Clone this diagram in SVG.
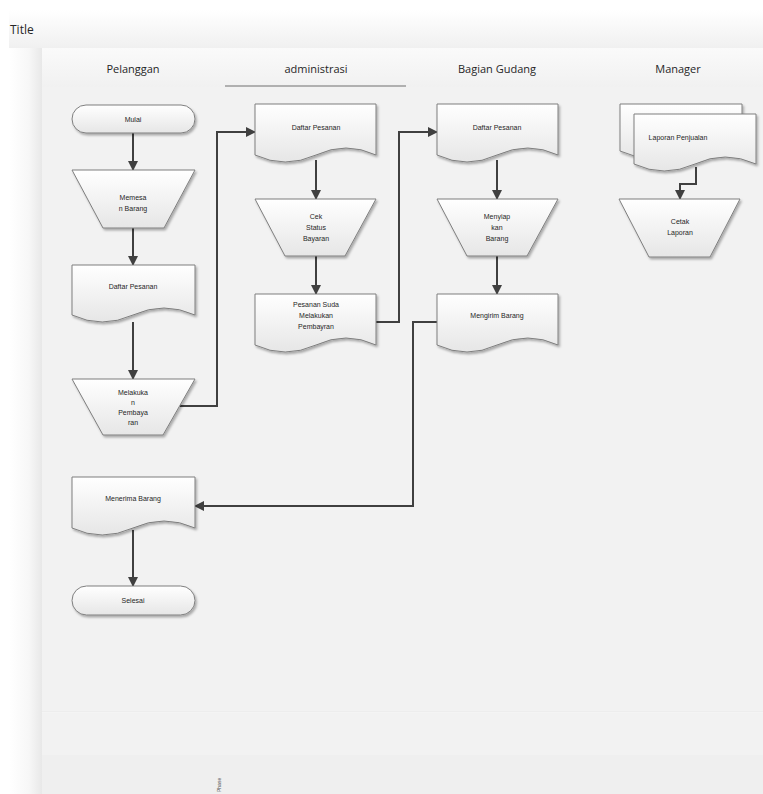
<svg xmlns="http://www.w3.org/2000/svg" width="763" height="794" viewBox="0 0 763 794">
<style>
.shape{fill:url(#shg);stroke:#7f7f7f;stroke-width:1;filter:url(#ds)}
.lbl{font-family:"Liberation Sans",Arial,sans-serif;font-size:7px;fill:#262626;text-anchor:middle}
.hdr{font-family:"Open Sans","Liberation Sans",sans-serif;font-size:11px;fill:#262626;text-anchor:middle}
.conn{fill:none;stroke:#404040;stroke-width:2}
</style>
<defs>
<linearGradient id="shg" x1="0" y1="0" x2="0" y2="1">
<stop offset="0" stop-color="#ffffff"/><stop offset="1" stop-color="#e6e6e6"/>
</linearGradient>
<linearGradient id="tg" x1="0" y1="0" x2="0" y2="1">
<stop offset="0" stop-color="#ffffff"/><stop offset="1" stop-color="#f0f0f0"/>
</linearGradient>
<linearGradient id="hg" x1="0" y1="0" x2="0" y2="1">
<stop offset="0" stop-color="#fafafa"/><stop offset="1" stop-color="#f1f1f1"/>
</linearGradient>
<linearGradient id="lsg" x1="0" y1="0" x2="1" y2="0">
<stop offset="0" stop-color="#ffffff"/><stop offset="0.6" stop-color="#f7f7f7"/><stop offset="1" stop-color="#e8e8e8"/>
</linearGradient>
<filter id="ds" x="-10%" y="-10%" width="130%" height="140%">
<feDropShadow dx="1.5" dy="2" stdDeviation="1.2" flood-color="#000" flood-opacity="0.3"/>
</filter>
<marker id="ah" viewBox="0 0 10 10" refX="9" refY="5" markerWidth="5" markerHeight="5" orient="auto" markerUnits="strokeWidth">
<path d="M0,0 L10,5 L0,10 Z" fill="#404040"/>
</marker>
</defs>

<!-- background -->
<rect x="0" y="0" width="763" height="794" fill="#ffffff"/>
<rect x="9" y="10" width="754" height="38" fill="url(#tg)"/>
<rect x="9" y="48" width="33" height="746" fill="url(#lsg)"/>
<rect x="42" y="48" width="721" height="39" fill="url(#hg)"/>
<rect x="42" y="87" width="721" height="625" fill="#f2f2f2"/>
<line x1="42" y1="712" x2="763" y2="712" stroke="#e9e9e9" stroke-width="1"/>
<rect x="42" y="713" width="721" height="42" fill="#f2f2f2"/>
<rect x="42" y="755" width="721" height="39" fill="#efefef"/>
<line x1="225" y1="86" x2="406" y2="86" stroke="#9a9a9a" stroke-width="1.5"/>
<text x="10" y="34" font-family="Open Sans,Liberation Sans,sans-serif" font-size="12" fill="#262626">Title</text>
<text class="hdr" x="133" y="73">Pelanggan</text>
<text class="hdr" x="316" y="73">administrasi</text>
<text class="hdr" x="497" y="73">Bagian Gudang</text>
<text class="hdr" x="678" y="73">Manager</text>
<text x="0" y="0" transform="translate(221,792) rotate(-90)" font-family="Liberation Sans,sans-serif" font-size="5" fill="#555">Phase</text>

<!-- connectors -->
<g id="connectors">
<line class="conn" x1="133" y1="133" x2="133" y2="170" marker-end="url(#ah)"/>
<line class="conn" x1="133" y1="228" x2="133" y2="265" marker-end="url(#ah)"/>
<line class="conn" x1="133" y1="322" x2="133" y2="379" marker-end="url(#ah)"/>
<polyline class="conn" points="180,406 217,406 217,132 255,132" marker-end="url(#ah)"/>
<line class="conn" x1="316" y1="160" x2="316" y2="199" marker-end="url(#ah)"/>
<line class="conn" x1="316" y1="256" x2="316" y2="294" marker-end="url(#ah)"/>
<polyline class="conn" points="376,322 399,322 399,132 437,132" marker-end="url(#ah)"/>
<line class="conn" x1="497" y1="160" x2="497" y2="199" marker-end="url(#ah)"/>
<line class="conn" x1="497" y1="256" x2="497" y2="294" marker-end="url(#ah)"/>
<polyline class="conn" points="437,322 413,322 413,506 195,506" marker-end="url(#ah)"/>
<line class="conn" x1="133" y1="530" x2="133" y2="586" marker-end="url(#ah)"/>
<polyline class="conn" points="696,167 696,184 680,184 680,199" marker-end="url(#ah)"/>
</g>

<!-- Pelanggan -->
<g id="mulai">
<rect class="shape" x="72" y="105" width="123" height="28" rx="14"/>
<text class="lbl" x="133" y="122">Mulai</text>
</g>
<g id="memesan">
<path class="shape" d="M72,170 H195 L164,228 H103 Z"/>
<text class="lbl" x="133" y="200">Memesa</text>
<text class="lbl" x="133" y="211">n Barang</text>
</g>
<g id="daftar1">
<path class="shape" d="M72,265 H195 V315 Q164,301 133,315 Q102,329 72,315 Z"/>
<text class="lbl" x="133" y="289">Daftar Pesanan</text>
</g>
<g id="melakukan">
<path class="shape" d="M72,379 H195 L163,435 H103 Z"/>
<text class="lbl" x="133" y="395">Melakuka</text>
<text class="lbl" x="133" y="405">n</text>
<text class="lbl" x="133" y="415">Pembaya</text>
<text class="lbl" x="133" y="425">ran</text>
</g>
<g id="menerima">
<path class="shape" d="M72,477 H195 V528 Q164,514 133,528 Q102,542 72,528 Z"/>
<text class="lbl" x="133" y="501">Menerima Barang</text>
</g>
<g id="selesai">
<rect class="shape" x="72" y="586" width="123" height="29" rx="14.5"/>
<text class="lbl" x="133" y="603">Selesai</text>
</g>

<!-- administrasi -->
<g id="daftar2">
<path class="shape" d="M255,104 H376 V155 Q346,141 316,155 Q285,169 255,155 Z"/>
<text class="lbl" x="316" y="130">Daftar Pesanan</text>
</g>
<g id="cek">
<path class="shape" d="M255,199 H376 L345,256 H285 Z"/>
<text class="lbl" x="316" y="219">Cek</text>
<text class="lbl" x="316" y="230">Status</text>
<text class="lbl" x="316" y="241">Bayaran</text>
</g>
<g id="pesanan">
<path class="shape" d="M255,294 H376 V345 Q346,331 316,345 Q285,359 255,345 Z"/>
<text class="lbl" x="316" y="307">Pesanan Suda</text>
<text class="lbl" x="316" y="318">Melakukan</text>
<text class="lbl" x="316" y="329">Pembayran</text>
</g>

<!-- Bagian Gudang -->
<g id="daftar3">
<path class="shape" d="M437,104 H558 V155 Q528,141 497,155 Q467,169 437,155 Z"/>
<text class="lbl" x="497" y="130">Daftar Pesanan</text>
</g>
<g id="menyiapkan">
<path class="shape" d="M437,199 H558 L527,256 H467 Z"/>
<text class="lbl" x="497" y="219">Menyiap</text>
<text class="lbl" x="497" y="230">kan</text>
<text class="lbl" x="497" y="241">Barang</text>
</g>
<g id="mengirim">
<path class="shape" d="M437,294 H558 V345 Q528,331 497,345 Q467,359 437,345 Z"/>
<text class="lbl" x="497" y="318">Mengirim Barang</text>
</g>

<!-- Manager -->
<g id="laporan">
<path class="shape" d="M620,104 H742 V151 Q711,137 681,151 Q650,165 620,151 Z"/>
<path class="shape" d="M634,114 H756 V164 Q725,150 695,164 Q664,178 634,164 Z"/>
<text class="lbl" x="678" y="140">Laporan Penjualan</text>
</g>
<g id="cetak">
<path class="shape" d="M619,199 H740 L710,257 H649 Z"/>
<text class="lbl" x="680" y="224">Cetak</text>
<text class="lbl" x="680" y="235">Laporan</text>
</g>
</svg>
